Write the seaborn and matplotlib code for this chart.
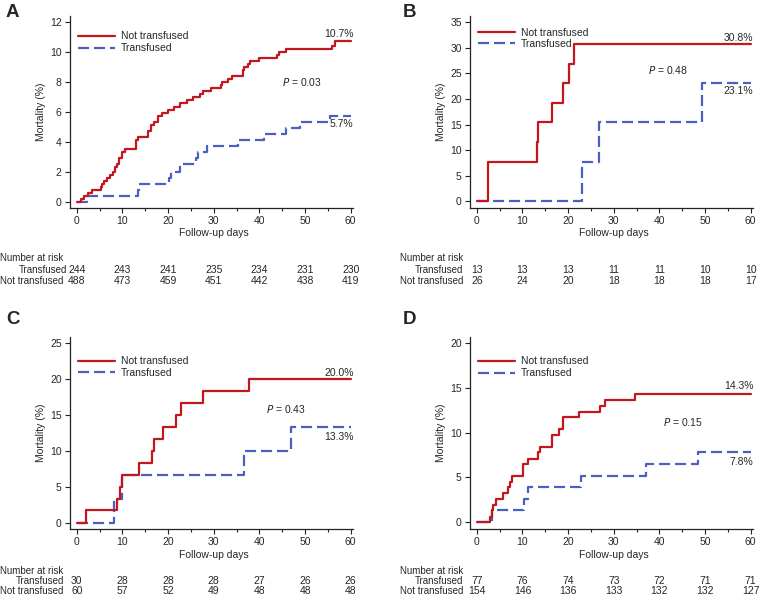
import matplotlib
matplotlib.use("Agg")
import matplotlib.pyplot as plt
import matplotlib.transforms as mtransforms
import seaborn as sns
import pandas as pd

# ---- data ----
days_ticks = [0, 10, 20, 30, 40, 50, 60]

A_red_days = [0, 0.9, 1.5, 2.4, 3.3, 5.3, 5.6, 6.0, 6.6, 7.3, 7.9, 8.4, 8.9, 9.3, 9.9, 10.6, 13.0, 13.5, 15.5, 16.2,
              17.0, 17.7, 18.6, 19.9, 21.3, 22.5, 24.2, 25.4, 27.0, 27.7, 29.3, 31.5, 31.8, 33.2, 33.9, 36.3, 36.7,
              37.4, 38.0, 40.0, 43.8, 44.2, 45.8, 55.8, 56.6, 60]
A_red_mort = [0, 0.2, 0.4, 0.6, 0.8, 1.0, 1.2, 1.4, 1.6, 1.8, 2.0, 2.3, 2.5, 2.9, 3.3, 3.5, 4.1, 4.3, 4.7, 5.1,
              5.3, 5.7, 5.9, 6.1, 6.3, 6.6, 6.8, 7.0, 7.2, 7.4, 7.6, 7.8, 8.0, 8.2, 8.4, 8.8, 9.0,
              9.2, 9.4, 9.6, 9.8, 10.0, 10.2, 10.4, 10.7, 10.7]
A_blue_days = [0, 2.2, 13.5, 13.7, 20.1, 20.7, 22.5, 26.1, 26.5, 28.5, 35.4, 40.9, 45.8, 48.9, 55.5, 60]
A_blue_mort = [0, 0.4, 0.8, 1.2, 1.6, 2.0, 2.5, 2.9, 3.3, 3.7, 4.1, 4.5, 4.9, 5.3, 5.7, 5.7]

B_red_days = [0, 2.4, 13.1, 13.4, 16.4, 18.9, 20.1, 21.3, 60]
B_red_mort = [0, 7.7, 11.5, 15.4, 19.2, 23.1, 26.9, 30.8, 30.8]
B_blue_days = [0, 23.0, 26.7, 49.3, 60]
B_blue_mort = [0, 7.7, 15.4, 23.1, 23.1]

C_red_days = [0, 2.0, 8.8, 9.5, 9.8, 13.6, 16.4, 16.8, 18.8, 21.7, 22.8, 27.7, 37.7, 60]
C_red_mort = [0, 1.7, 3.3, 5.0, 6.7, 8.3, 10.0, 11.7, 13.3, 15.0, 16.7, 18.3, 20.0, 20.0]
C_blue_days = [0, 8.1, 9.9, 36.7, 46.9, 60]
C_blue_mort = [0, 3.3, 6.7, 10.0, 13.3, 13.3]

D_red_days = [0, 2.8, 3.3, 3.6, 4.2, 5.8, 6.8, 7.2, 7.8, 10.1, 11.3, 13.4, 13.9, 16.4, 17.9, 18.8, 22.3, 27.0,
              28.1, 34.6, 60]
D_red_mort = [0, 0.6, 1.3, 1.9, 2.6, 3.2, 3.9, 4.5, 5.2, 6.5, 7.1, 7.8, 8.4, 9.7, 10.4, 11.7, 12.3, 13.0,
              13.6, 14.3, 14.3]
D_blue_days = [0, 3.4, 10.4, 11.3, 22.9, 37.0, 48.5, 60]
D_blue_mort = [0, 1.3, 2.6, 3.9, 5.2, 6.5, 7.8, 7.8]

A_risk_t = [244, 243, 241, 235, 234, 231, 230]
A_risk_nt = [488, 473, 459, 451, 442, 438, 419]
B_risk_t = [13, 13, 13, 11, 11, 10, 10]
B_risk_nt = [26, 24, 20, 18, 18, 18, 17]
C_risk_t = [30, 28, 28, 28, 27, 26, 26]
C_risk_nt = [60, 57, 52, 49, 48, 48, 48]
D_risk_t = [77, 76, 74, 73, 72, 71, 71]
D_risk_nt = [154, 146, 136, 133, 132, 132, 127]

p_values = ["0.03", "0.48", "0.43", "0.15"]
end_red = ["10.7%", "30.8%", "20.0%", "14.3%"]
end_blue = ["5.7%", "23.1%", "13.3%", "7.8%"]

RED = "#c3161f"
BLUE = "#4a60c0"
W, H = 759, 597
FS = 7.5
FS_ROW = 7

sns.set_style("ticks")
plt.rcParams["font.family"] = ["Liberation Sans", "DejaVu Sans"]
plt.rcParams["font.size"] = FS

fig = plt.figure(figsize=(W / 100, H / 100), dpi=100)


def fx(px):
    return px / W


def fy(py):
    return 1 - py / H


# panel settings: left px, top px, ylim, yticks, p-value pos, end label y, legend
panels = [
    dict(letter="A", left=70, top=16, ylim=(-0.42, 12.38), yticks=range(0, 13, 2),
         red=(A_red_days, A_red_mort), blue=(A_blue_days, A_blue_mort),
         risk=(A_risk_t, A_risk_nt), p=(45.0, 8.0), red_lab=11.15, blue_lab=5.15,
         leg_y=0.92, leg_sp=0.2, rows=(220, 233, 258, 269.5, 281.5), row_x=(0, 67), let=(6, 4)),
    dict(letter="B", left=470, top=16, ylim=(-1.3, 36.2), yticks=range(0, 36, 5),
         red=(B_red_days, B_red_mort), blue=(B_blue_days, B_blue_mort),
         risk=(B_risk_t, B_risk_nt), p=(37.4, 25.6), red_lab=31.9, blue_lab=21.6,
         leg_y=0.937, leg_sp=0.05, rows=(220, 233, 258, 269.5, 281.5), row_x=(400, 463), let=(403, 4)),
    dict(letter="C", left=70, top=337, ylim=(-0.88, 25.86), yticks=range(0, 26, 5),
         red=(C_red_days, C_red_mort), blue=(C_blue_days, C_blue_mort),
         risk=(C_risk_t, C_risk_nt), p=(41.5, 15.9), red_lab=20.9, blue_lab=12.0,
         leg_y=0.90, leg_sp=0.15, rows=(540, 555, 571, 581.5, 591.5), row_x=(0, 64), let=(6, 311)),
    dict(letter="D", left=470, top=337, ylim=(-0.78, 20.7), yticks=range(0, 21, 5),
         red=(D_red_days, D_red_mort), blue=(D_blue_days, D_blue_mort),
         risk=(D_risk_t, D_risk_nt), p=(40.7, 11.2), red_lab=15.2, blue_lab=6.75,
         leg_y=0.90, leg_sp=0.2, rows=(540, 555, 571, 581.5, 591.5), row_x=(400, 463), let=(403, 311)),
]

for i, pn in enumerate(panels):
    ax_w, ax_h = 283, 192
    ax = fig.add_axes([fx(pn["left"]), fy(pn["top"] + ax_h), ax_w / W, ax_h / H])

    blue_df = pd.DataFrame({"day": pn["blue"][0], "mort": pn["blue"][1]})
    red_df = pd.DataFrame({"day": pn["red"][0], "mort": pn["red"][1]})
    sns.lineplot(data=blue_df, x="day", y="mort", ax=ax, estimator=None, sort=False,
                 drawstyle="steps-post", color=BLUE, lw=1.6, linestyle=(0, (5, 2.2)),
                 label="Transfused")
    sns.lineplot(data=red_df, x="day", y="mort", ax=ax, estimator=None, sort=False,
                 drawstyle="steps-post", color=RED, lw=1.6, label="Not transfused")

    ax.set_xlim(-1.5, 60.5)
    ax.set_ylim(*pn["ylim"])
    ax.set_xticks(days_ticks)
    ax.set_xticks(range(5, 60, 10), minor=True)
    ax.set_yticks(list(pn["yticks"]))
    ax.tick_params(axis="both", which="major", direction="out", length=3.5, width=0.8,
                   labelsize=FS, pad=2.5, color="#222222")
    ax.tick_params(axis="x", which="minor", direction="out", length=2, width=0.8, color="#222222")
    sns.despine(ax=ax)
    for s in ("left", "bottom"):
        ax.spines[s].set_linewidth(0.9)
        ax.spines[s].set_color("#222222")

    ax.set_xlabel("")
    ax.set_ylabel("Mortality (%)", fontsize=FS, labelpad=3)

    handles, labels = ax.get_legend_handles_labels()
    ax.legend(handles[::-1], labels[::-1], loc="upper left", bbox_to_anchor=(0.028, pn["leg_y"]),
              frameon=False, fontsize=FS, handlelength=3.6, handletextpad=0.55,
              labelspacing=pn["leg_sp"], borderpad=0, borderaxespad=0)

    ax.text(pn["p"][0], pn["p"][1], r"$\it{P}$ = " + p_values[i], fontsize=FS, va="center", ha="left")
    ax.text(60.6, pn["red_lab"], end_red[i], fontsize=FS, va="center", ha="right")
    ax.text(60.6, pn["blue_lab"], end_blue[i], fontsize=FS, va="center", ha="right")

    # panel letter
    fig.text(fx(pn["let"][0]), fy(pn["let"][1]), pn["letter"], fontsize=13.5, fontweight="bold",
             va="top", ha="left")

    # x label and risk table
    y_tick, y_xlab, y_nar, y_t, y_nt = pn["rows"]
    trans = mtransforms.blended_transform_factory(ax.transData, fig.transFigure)
    ax.text(30, fy(y_xlab), "Follow-up days", transform=trans, fontsize=FS, ha="center", va="center")
    fig.text(fx(pn["row_x"][0]), fy(y_nar), "Number at risk", fontsize=FS_ROW, ha="left", va="center")
    fig.text(fx(pn["row_x"][1]), fy(y_t), "Transfused", fontsize=FS_ROW, ha="right", va="center")
    fig.text(fx(pn["row_x"][0] + 0.5), fy(y_nt), "Not transfused", fontsize=FS_ROW, ha="left", va="center")
    for d, nt_, t_ in zip(days_ticks, pn["risk"][1], pn["risk"][0]):
        ax.text(d, fy(y_t), str(t_), transform=trans, fontsize=FS, ha="center", va="center")
        ax.text(d, fy(y_nt), str(nt_), transform=trans, fontsize=FS, ha="center", va="center")

fig.savefig("out.png", dpi=100)
